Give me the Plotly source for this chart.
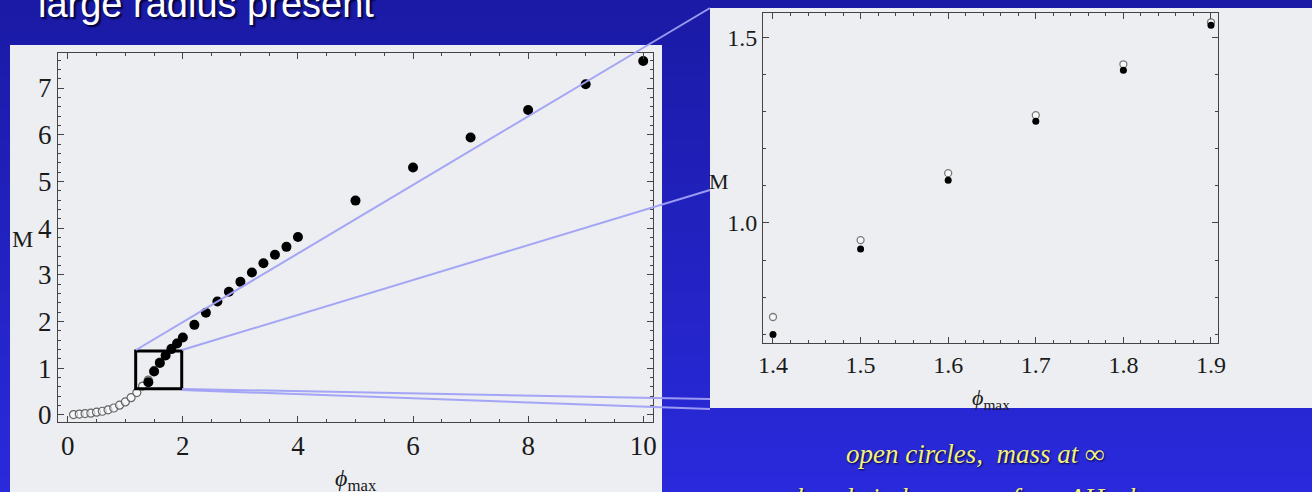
import plotly.graph_objects as go

# ---------------- data ----------------
open_phi = [0.1, 0.2, 0.3, 0.4, 0.5, 0.6, 0.7, 0.8, 0.9, 1.0, 1.1, 1.2, 1.3,
            1.4, 1.5, 1.6, 1.7, 1.8, 1.9]
open_M = [0.01, 0.02, 0.03, 0.04, 0.06, 0.08, 0.11, 0.15, 0.21, 0.28, 0.37, 0.48, 0.62,
          0.747, 0.954, 1.134, 1.290, 1.427, 1.540]

closed_phi = [1.4, 1.5, 1.6, 1.7, 1.8, 1.9, 2.0,
              2.2, 2.4, 2.6, 2.8, 3.0, 3.2, 3.4, 3.6, 3.8, 4.0,
              5, 6, 7, 8, 9, 10]
closed_M = [0.700, 0.930, 1.115, 1.274, 1.411, 1.532, 1.66,
            1.93, 2.19, 2.43, 2.64, 2.85, 3.05, 3.25, 3.43, 3.60, 3.81,
            4.59, 5.30, 5.94, 6.53, 7.08, 7.58]

zoom_box_phi = [1.18, 1.98]
zoom_box_M = [0.56, 1.37]

left_x_ticks = [0, 2, 4, 6, 8, 10]
left_y_ticks = [0, 1, 2, 3, 4, 5, 6, 7]
right_x_ticks = [1.4, 1.5, 1.6, 1.7, 1.8, 1.9]
right_y_ticks = [1.0, 1.5]

title_text = "large radius present"
note_line1 = "open circles,  mass at ∞"
note_line2 = "closed circles,  mass from AH when"
x_title = "<i>ϕ</i><sub>max</sub>"
y_title = "M"

# ---------------- geometry helpers ----------------
W, H = 1312, 492
def px(x):
    return x / W
def py(y):
    return 1 - y / H

PANEL = "#eceef1"
AXC = "#444444"
SERIF = "Liberation Serif, Times New Roman, serif"

fig = go.Figure()

# left chart traces
fig.add_trace(go.Scatter(x=open_phi, y=open_M, mode="markers", xaxis="x", yaxis="y",
                         marker=dict(size=8, color="rgba(255,255,255,0.6)",
                                     line=dict(color="#666666", width=1.2)),
                         showlegend=False, hoverinfo="skip"))
fig.add_trace(go.Scatter(x=closed_phi, y=closed_M, mode="markers", xaxis="x", yaxis="y",
                         marker=dict(size=10, color="#000000"),
                         showlegend=False, hoverinfo="skip"))
# right chart traces
fig.add_trace(go.Scatter(x=open_phi, y=open_M, mode="markers", xaxis="x2", yaxis="y2",
                         marker=dict(size=7, color="rgba(255,255,255,0.6)",
                                     line=dict(color="#7a7a7a", width=1.3)),
                         showlegend=False, hoverinfo="skip", cliponaxis=True))
fig.add_trace(go.Scatter(x=closed_phi, y=closed_M, mode="markers", xaxis="x2", yaxis="y2",
                         marker=dict(size=7, color="#000000"),
                         showlegend=False, hoverinfo="skip", cliponaxis=True))

def axis_common(fs):
    return dict(showline=True, mirror="ticks", linecolor=AXC, linewidth=1,
                ticks="inside", tickcolor=AXC, ticklen=6, tickwidth=1,
                showgrid=False, zeroline=False,
                tickfont=dict(family=SERIF, size=fs, color="#1a1a1a"))

fig.update_layout(
    width=W, height=H,
    margin=dict(l=0, r=0, t=0, b=0, pad=0, autoexpand=False),
    paper_bgcolor="#2020c0",
    plot_bgcolor=PANEL,
    xaxis=dict(domain=[px(58), px(653)], range=[-0.17, 10.17], anchor="y",
               tickmode="array", tickvals=left_x_ticks,
               minor=dict(dtick=0.5, ticks="inside", ticklen=3, tickcolor=AXC),
               **axis_common(27)),
    yaxis=dict(domain=[py(422), py(53)], range=[-0.15, 7.75], anchor="x",
               tickmode="array", tickvals=left_y_ticks,
               minor=dict(dtick=0.2, ticks="inside", ticklen=3, tickcolor=AXC),
               **axis_common(27)),
    xaxis2=dict(domain=[px(763), px(1218)], range=[1.3886, 1.908], anchor="y2",
                tickmode="array", tickvals=right_x_ticks, tickformat=".1f",
                minor=dict(dtick=0.02, tick0=1.4, ticks="inside", ticklen=3, tickcolor=AXC),
                **axis_common(24)),
    yaxis2=dict(domain=[py(343), py(13)], range=[0.677, 1.565], anchor="x2",
                tickmode="array", tickvals=right_y_ticks, tickformat=".1f",
                minor=dict(dtick=0.1, tick0=1.0, ticks="inside", ticklen=3, tickcolor=AXC),
                **axis_common(24)),
)

shapes = []
# background gradient bands
top_rgb = (0x1a, 0x1a, 0xa6)
bot_rgb = (0x2a, 0x2a, 0xdc)
n = 32
for i in range(n):
    t = i / (n - 1)
    c = tuple(int(round(a + (b - a) * t)) for a, b in zip(top_rgb, bot_rgb))
    shapes.append(dict(type="rect", xref="paper", yref="paper", layer="below",
                       x0=0, x1=1, y0=py(H * (i + 1) / n + 1), y1=py(H * i / n),
                       fillcolor="rgb(%d,%d,%d)" % c, line=dict(width=0)))
# white panels
shapes.append(dict(type="rect", xref="paper", yref="paper", layer="below",
                   x0=px(10), x1=px(662), y0=py(500), y1=py(45),
                   fillcolor=PANEL, line=dict(width=0)))
shapes.append(dict(type="rect", xref="paper", yref="paper", layer="below",
                   x0=px(710), x1=px(1312), y0=py(408), y1=py(8),
                   fillcolor=PANEL, line=dict(width=0)))
# zoom box on left chart
shapes.append(dict(type="rect", xref="x", yref="y", layer="above",
                   x0=zoom_box_phi[0], x1=zoom_box_phi[1],
                   y0=zoom_box_M[0], y1=zoom_box_M[1],
                   line=dict(color="#000000", width=3)))
# connector lines
LAV = "rgba(160,160,245,0.95)"
for (x0, y0, x1, y1) in [(136, 350, 710, 8), (182, 350, 710, 190),
                         (182, 389, 710, 399), (182, 390, 710, 409)]:
    shapes.append(dict(type="line", xref="paper", yref="paper", layer="above",
                       x0=px(x0), y0=py(y0), x1=px(x1), y1=py(y1),
                       line=dict(color=LAV, width=2)))
fig.update_layout(shapes=shapes)

def ann(text, x, y, font, xanchor="center"):
    return dict(text=text, x=px(x), y=py(y), xref="paper", yref="paper",
                xanchor=xanchor, yanchor="middle", showarrow=False, font=font)

anns = [
    ann(y_title, 22, 239, dict(family=SERIF, size=24, color="#1a1a1a")),
    ann(x_title, 356, 480, dict(family=SERIF, size=24, color="#1a1a1a")),
    ann(y_title, 719, 181, dict(family=SERIF, size=22, color="#1a1a1a")),
    ann(x_title, 991, 399, dict(family=SERIF, size=22, color="#1a1a1a")),
    ann(title_text, 36, 4, dict(family="Liberation Sans, Arial, sans-serif", size=38,
                                color="#ffffff", shadow="2px 2px 2px #000033"), xanchor="left"),
    ann(note_line1, 975, 454, dict(family=SERIF, size=27, style="italic", color="#f2f27c",
                                   shadow="1px 1px 2px #000033")),
    ann(note_line2, 976, 498, dict(family=SERIF, size=27, style="italic", color="#f2f27c",
                                   shadow="1px 1px 2px #000033")),
]
fig.update_layout(annotations=anns)

fig.write_html("out.html")
